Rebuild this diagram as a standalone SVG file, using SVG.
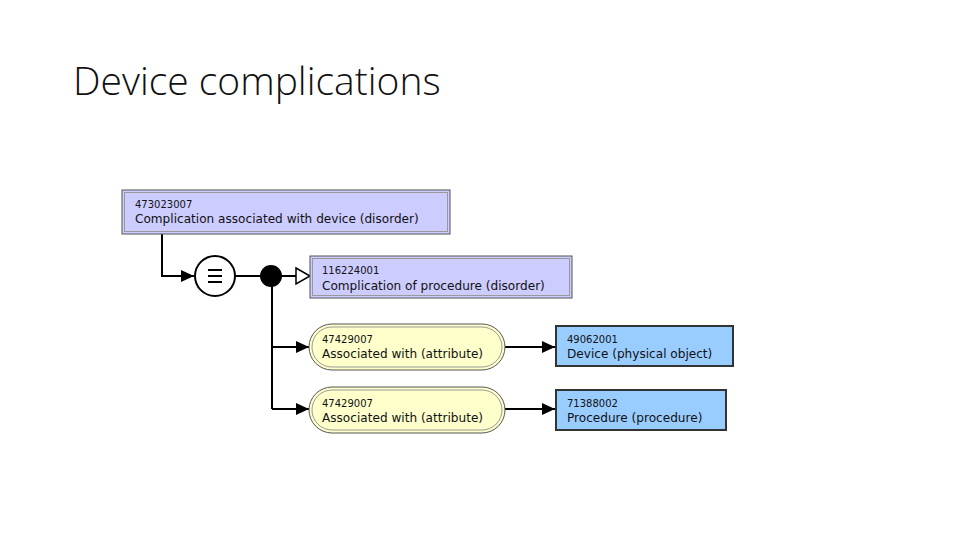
<svg xmlns="http://www.w3.org/2000/svg" width="960" height="540" viewBox="0 0 960 540">
<style>
.title{font-family:"Open Sans","Liberation Sans",sans-serif;font-weight:300;font-size:39px;fill:#111}
.code{font-family:"DejaVu Sans",sans-serif;font-size:10px;fill:#111}
.lbl{font-family:"DejaVu Sans",sans-serif;font-size:12.1px;fill:#111}
.def{fill:#ccccff;stroke:#555;stroke-width:1}
.defin{fill:none;stroke:#999;stroke-width:1}
.attr{fill:#ffffcc;stroke:#555;stroke-width:1}
.concept{fill:#99ccff;stroke:#333;stroke-width:2}
.ln{fill:none;stroke:#000;stroke-width:2}
</style>
<defs>
<marker id="arr" markerWidth="14" markerHeight="12" refX="13" refY="6" orient="auto" markerUnits="userSpaceOnUse"><path d="M0,0 L13,6 L0,12 Z" fill="#000"/></marker>
</defs>
<rect width="960" height="540" fill="#fff"/>
<text class="title" x="73" y="95">Device complications</text>
<g id="connectors">
<path class="ln" d="M162,234 V276 H194" marker-end="url(#arr)"/>
<path class="ln" d="M235,276 H261"/>
<path class="ln" d="M282,276 H296"/>
<path d="M296,268 L310,276 L296,284 Z" fill="#fff" stroke="#000" stroke-width="1.5"/>
<path class="ln" d="M272,286 V409"/>
<path class="ln" d="M272,347 H309" marker-end="url(#arr)"/>
<path class="ln" d="M272,409 H309" marker-end="url(#arr)"/>
<path class="ln" d="M505,347 H555" marker-end="url(#arr)"/>
<path class="ln" d="M505,409 H555" marker-end="url(#arr)"/>
</g>
<g id="n473023007">
<rect class="def" x="122" y="190" width="328" height="44"/>
<rect class="defin" x="124.5" y="192.5" width="323" height="39"/>
<text class="code" x="135" y="208">473023007</text>
<text class="lbl" x="135" y="223">Complication associated with device (disorder)</text>
</g>
<g id="equiv">
<circle cx="215" cy="276" r="20" fill="#fff" stroke="#000" stroke-width="2"/>
<path d="M208,270 H222 M208,276 H222 M208,282 H222" stroke="#000" stroke-width="2"/>
</g>
<g id="conj">
<circle cx="271" cy="276" r="11" fill="#000"/>
</g>
<g id="n116224001">
<rect class="def" x="310" y="256" width="262" height="42"/>
<rect class="defin" x="312.5" y="258.5" width="257" height="37"/>
<text class="code" x="322" y="274">116224001</text>
<text class="lbl" x="322" y="290">Complication of procedure (disorder)</text>
</g>
<g id="attr1">
<rect class="attr" x="309" y="324" width="196" height="46" rx="23"/>
<rect class="defin" x="312" y="327" width="190" height="40" rx="20"/>
<text class="code" x="322" y="343">47429007</text>
<text class="lbl" x="322" y="358">Associated with (attribute)</text>
</g>
<g id="n49062001">
<rect class="concept" x="556" y="326" width="177" height="40"/>
<text class="code" x="567" y="343">49062001</text>
<text class="lbl" x="567" y="358">Device (physical object)</text>
</g>
<g id="attr2">
<rect class="attr" x="309" y="387" width="196" height="46" rx="23"/>
<rect class="defin" x="312" y="390" width="190" height="40" rx="20"/>
<text class="code" x="322" y="407">47429007</text>
<text class="lbl" x="322" y="422">Associated with (attribute)</text>
</g>
<g id="n71388002">
<rect class="concept" x="556" y="390" width="170" height="40"/>
<text class="code" x="567" y="407">71388002</text>
<text class="lbl" x="567" y="422">Procedure (procedure)</text>
</g>
</svg>
